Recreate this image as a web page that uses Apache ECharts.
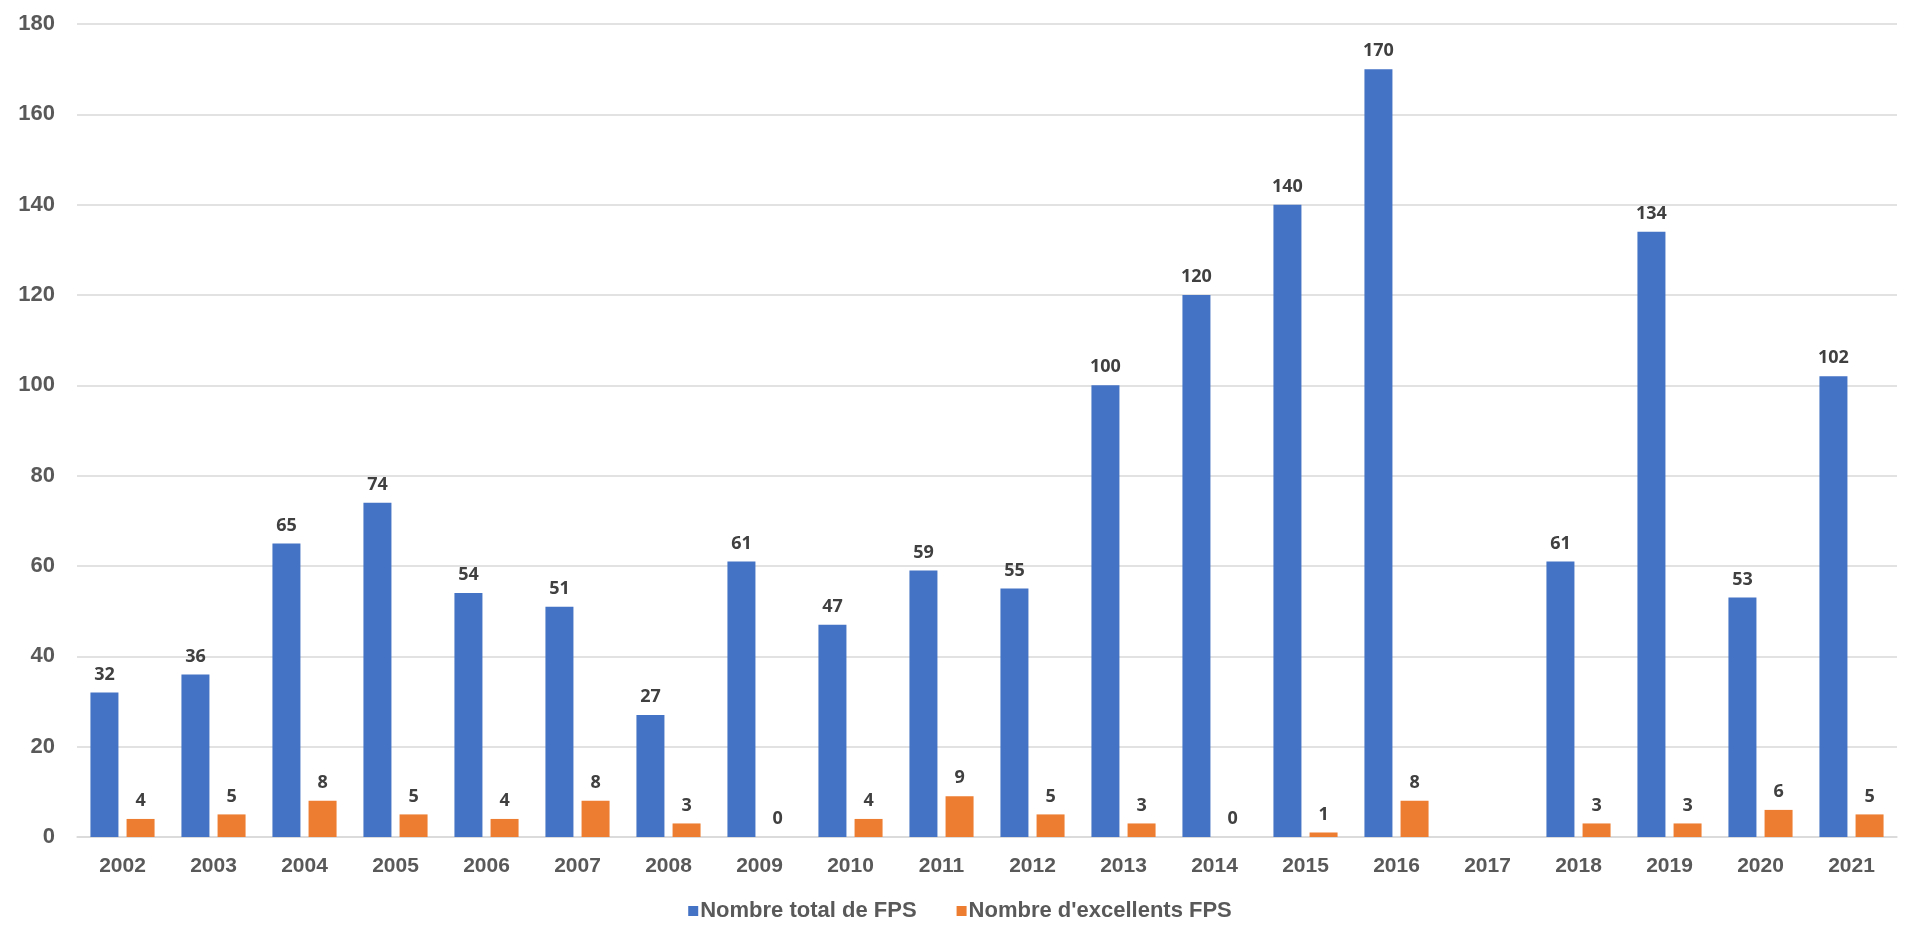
<!DOCTYPE html>
<html>
<head>
<meta charset="utf-8">
<script src="https://cdn.jsdelivr.net/npm/echarts@6/dist/echarts.min.js"></script>
<style>
html,body{margin:0;padding:0;background:#fff;}
#c{width:1920px;height:939px;}
</style>
</head>
<body>
<div id="c"></div>
<script>
const years = ['2002','2003','2004','2005','2006','2007','2008','2009','2010','2011','2012','2013','2014','2015','2016','2017','2018','2019','2020','2021'];
const totalFPS = [32,36,65,74,54,51,27,61,47,59,55,100,120,140,170,null,61,134,53,102];
const excellentFPS = [4,5,8,5,4,8,3,0,4,9,5,3,0,1,8,null,3,3,6,5];
const yTicks = [0,20,40,60,80,100,120,140,160,180];
const seriesNames = ['Nombre total de FPS', "Nombre d'excellents FPS"];

const chart = echarts.init(document.getElementById('c'));
const labelStyle = {
  show: true, position: 'top', distance: 9,
  fontFamily: 'Noto Sans', fontWeight: 'bold', fontSize: 18, color: '#404040'
};
chart.setOption({
  animation: false,
  backgroundColor: '#ffffff',
  grid: {left: 77, right: 23, top: 24, bottom: 102, containLabel: false},
  legend: {
    top: 895, left: 'center',
    icon: 'rect', itemWidth: 10, itemHeight: 10, itemGap: 40,
    textStyle: {fontFamily: 'Liberation Sans', fontWeight: 'bold', fontSize: 22, color: '#595959', padding: [0,0,0,-3]},
    data: seriesNames
  },
  xAxis: {
    type: 'category', data: years,
    axisLine: {lineStyle: {color: '#d9d9d9', width: 1.5}},
    axisTick: {show: false},
    axisLabel: {margin: 19, fontFamily: 'Liberation Sans', fontWeight: 'bold', fontSize: 21, color: '#595959'}
  },
  yAxis: {
    type: 'value', min: yTicks[0], max: yTicks[yTicks.length-1], interval: 20,
    axisLine: {show: false}, axisTick: {show: false},
    splitLine: {lineStyle: {color: '#d9d9d9', width: 1.5}},
    axisLabel: {margin: 22, fontFamily: 'Liberation Sans', fontWeight: 'bold', fontSize: 22, color: '#595959'}
  },
  series: [
    {name: seriesNames[0], type: 'bar', data: totalFPS, barWidth: 28, barGap: '29%',
     itemStyle: {color: '#4472C4'}, label: labelStyle},
    {name: seriesNames[1], type: 'bar', data: excellentFPS, barWidth: 28,
     itemStyle: {color: '#ED7D31'}, label: labelStyle}
  ]
});
</script>
</body>
</html>
